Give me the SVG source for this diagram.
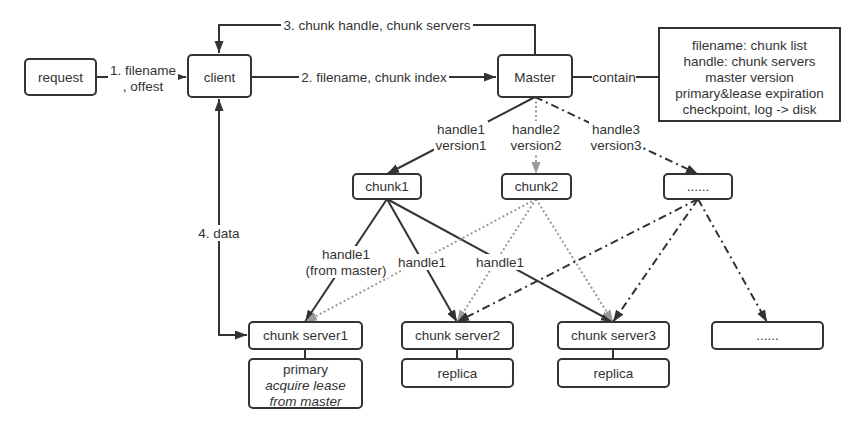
<svg xmlns="http://www.w3.org/2000/svg" width="864" height="432" viewBox="0 0 864 432">
<style>
text{font-family:"Liberation Sans",Arial,sans-serif;font-size:13.5px;fill:#333;text-anchor:middle}
.box{fill:#fff;stroke:#333;stroke-width:2}
.ln{fill:none;stroke:#333;stroke-width:2}
.dot{fill:none;stroke:#999;stroke-width:2;stroke-dasharray:2 2.5}
.dd{fill:none;stroke:#333;stroke-width:2;stroke-dasharray:8 4 2 4}
.bg{fill:#fff;stroke:none}
.it{font-style:italic}
</style>
<defs>
<marker id="a" markerUnits="userSpaceOnUse" markerWidth="14" markerHeight="10" refX="12" refY="4.5" orient="auto-start-reverse"><path d="M0,0 L12,4.5 L0,9 z" fill="#333"/></marker>
<marker id="g" markerUnits="userSpaceOnUse" markerWidth="14" markerHeight="10" refX="12" refY="4.5" orient="auto"><path d="M0,0 L12,4.5 L0,9 z" fill="#999"/></marker>
</defs>
<rect width="864" height="432" fill="#fff"/>
<g id="connectors">
<path class="ln" d="M96,77 H186" marker-end="url(#a)"/>
<path class="ln" d="M535,55 V25 H219 V53" marker-end="url(#a)"/>
<path class="ln" d="M251,77 H496" marker-end="url(#a)"/>
<path class="ln" d="M572,77 H659"/>
<path class="ln" d="M219,99 V335 H247" marker-start="url(#a)" marker-end="url(#a)"/>
<path class="ln" d="M535,97 L387,174" marker-end="url(#a)"/>
<path class="dot" d="M536,97 L536,174" marker-end="url(#g)"/>
<path class="dd" d="M535,97 L698,174" marker-end="url(#a)"/>
<path class="ln" d="M387,199 L305,322" marker-end="url(#a)"/>
<path class="ln" d="M387,199 L457,322" marker-end="url(#a)"/>
<path class="ln" d="M387,199 L613,322" marker-end="url(#a)"/>
<path class="dot" d="M536,199 L305,322" marker-end="url(#g)"/>
<path class="dot" d="M536,199 L457,322" marker-end="url(#g)"/>
<path class="dot" d="M536,199 L613,322" marker-end="url(#g)"/>
<path class="dd" d="M698,199 L457,322" marker-end="url(#a)"/>
<path class="dd" d="M698,199 L613,322" marker-end="url(#a)"/>
<path class="dd" d="M698,199 L767,322" marker-end="url(#a)"/>
<path class="ln" d="M305,349 V359 M457,349 V359 M613,349 V359"/>
<rect class="bg" x="108" y="62" width="70" height="32"/>
<text x="143" y="74.5">1. filename<tspan x="143" dy="16">, offest</tspan></text>
<rect class="bg" x="281" y="17" width="192" height="16"/>
<text x="377" y="29.5">3. chunk handle, chunk servers</text>
<rect class="bg" x="299" y="69" width="150" height="16"/>
<text x="374" y="81.5">2. filename, chunk index</text>
<rect class="bg" x="592" y="69" width="44" height="16"/>
<text x="614" y="81.5">contain</text>
<rect class="bg" x="198" y="225" width="42" height="16"/>
<text x="219" y="237.5">4. data</text>
<rect class="bg" x="434" y="121" width="54" height="32"/>
<text x="461" y="133.5">handle1<tspan x="461" dy="16">version1</tspan></text>
<rect class="bg" x="509" y="121" width="54" height="32"/>
<text x="536" y="133.5">handle2<tspan x="536" dy="16">version2</tspan></text>
<rect class="bg" x="589" y="121" width="54" height="32"/>
<text x="616" y="133.5">handle3<tspan x="616" dy="16">version3</tspan></text>
<rect class="bg" x="303" y="246" width="86" height="32"/>
<text x="346" y="258.5">handle1<tspan x="346" dy="16">(from master)</tspan></text>
<rect class="bg" x="396" y="254" width="52" height="16"/>
<text x="422" y="266.5">handle1</text>
<rect class="bg" x="474" y="254" width="52" height="16"/>
<text x="500" y="266.5">handle1</text>
</g>
<g id="request"><rect class="box" x="25" y="59" width="71" height="36" rx="4"/><text x="60.5" y="81.5">request</text></g>
<g id="client"><rect class="box" x="188" y="55" width="63" height="42" rx="4"/><text x="219.5" y="81.5">client</text></g>
<g id="master"><rect class="box" x="498" y="55" width="74" height="42" rx="4"/><text x="535" y="81.5">Master</text></g>
<g id="info"><rect class="box" x="659" y="28" width="181" height="93"/>
<text x="749.5" y="49.5">filename: chunk list<tspan x="749.5" dy="16">handle: chunk servers</tspan><tspan x="749.5" dy="16">master version</tspan><tspan x="749.5" dy="16">primary&amp;lease expiration</tspan><tspan x="749.5" dy="16">checkpoint, log -&gt; disk</tspan></text></g>
<g id="chunk1"><rect class="box" x="353" y="174" width="68" height="25" rx="4"/><text x="387" y="191">chunk1</text></g>
<g id="chunk2"><rect class="box" x="502" y="174" width="69" height="25" rx="4"/><text x="536.5" y="191">chunk2</text></g>
<g id="chunk3"><rect class="box" x="664" y="174" width="68" height="25" rx="4"/><text x="698" y="191">......</text></g>
<g id="server1"><rect class="box" x="249" y="322" width="113" height="27" rx="4"/><text x="305.5" y="340">chunk server1</text></g>
<g id="server2"><rect class="box" x="402" y="322" width="111" height="27" rx="4"/><text x="457.5" y="340">chunk server2</text></g>
<g id="server3"><rect class="box" x="558" y="322" width="111" height="27" rx="4"/><text x="613.5" y="340">chunk server3</text></g>
<g id="server4"><rect class="box" x="712" y="322" width="111" height="27" rx="4"/><text x="767.5" y="340">......</text></g>
<g id="primary"><rect class="box" x="249" y="359" width="113" height="49" rx="4"/>
<text x="305.5" y="373.5">primary<tspan class="it" x="305.5" dy="16">acquire lease</tspan><tspan class="it" x="305.5" dy="16">from master</tspan></text></g>
<g id="replica2"><rect class="box" x="402" y="359" width="111" height="28" rx="4"/><text x="457.5" y="377.5">replica</text></g>
<g id="replica3"><rect class="box" x="558" y="359" width="111" height="28" rx="4"/><text x="613.5" y="377.5">replica</text></g>
</svg>
